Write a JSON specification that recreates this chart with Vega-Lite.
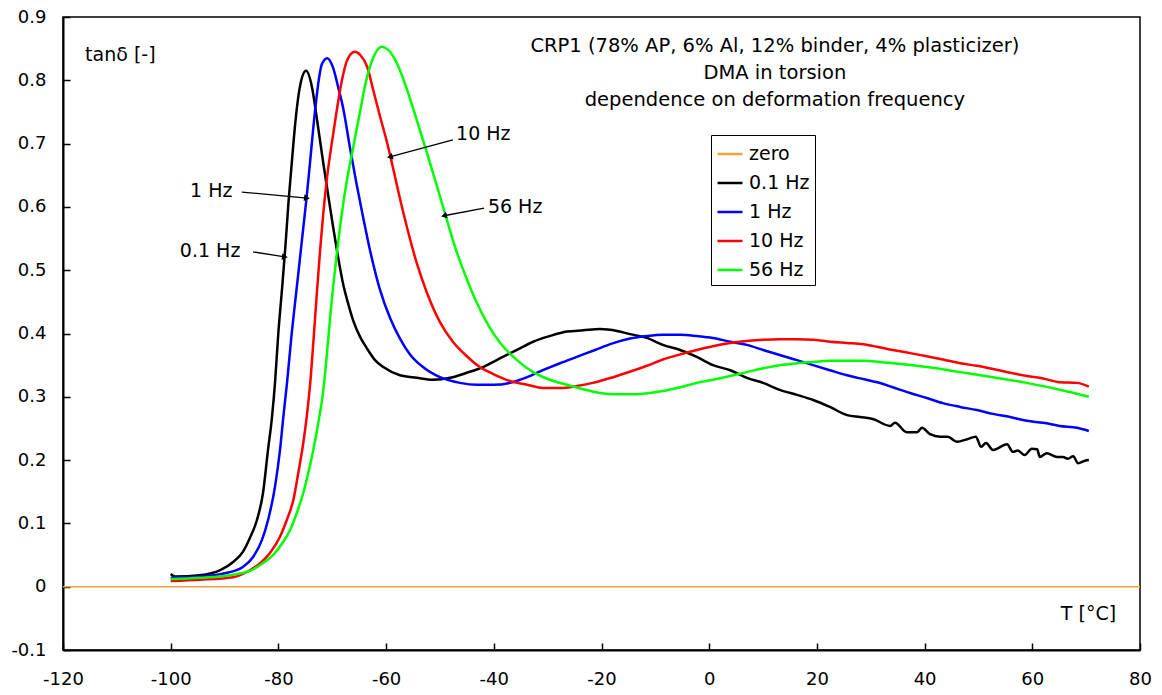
{
  "$schema": "https://vega.github.io/schema/vega-lite/v6.json",
  "width": 1077,
  "height": 633,
  "autosize": {"type": "none"},
  "padding": {"left": 63, "top": 17, "right": 22, "bottom": 45},
  "background": "white",
  "config": {
    "font": "DejaVu Sans",
    "view": {"stroke": "black", "strokeWidth": 1.5},
    "axis": {
      "labelFont": "DejaVu Sans",
      "labelFontSize": 18,
      "labelColor": "black",
      "domainColor": "black",
      "domainWidth": 2,
      "tickColor": "black",
      "tickWidth": 1.5,
      "tickSize": -7,
      "grid": false
    }
  },
  "datasets": {
    "zero": [
      {"series": "zero", "T": -120, "tan": 0},
      {"series": "zero", "T": 80, "tan": 0}
    ],
    "curves": [
      {"series": "0.1 Hz", "T": -100, "tan": 0.020},
      {"series": "0.1 Hz", "T": -99.2, "tan": 0.016},
      {"series": "0.1 Hz", "T": -94.6, "tan": 0.018},
      {"series": "0.1 Hz", "T": -90.8, "tan": 0.026},
      {"series": "0.1 Hz", "T": -88.4, "tan": 0.039},
      {"series": "0.1 Hz", "T": -86.6, "tan": 0.055},
      {"series": "0.1 Hz", "T": -85.3, "tan": 0.077},
      {"series": "0.1 Hz", "T": -84.0, "tan": 0.105},
      {"series": "0.1 Hz", "T": -82.86, "tan": 0.148},
      {"series": "0.1 Hz", "T": -81.93, "tan": 0.216},
      {"series": "0.1 Hz", "T": -81.19, "tan": 0.268},
      {"series": "0.1 Hz", "T": -80.63, "tan": 0.322},
      {"series": "0.1 Hz", "T": -80.02, "tan": 0.400},
      {"series": "0.1 Hz", "T": -79.33, "tan": 0.470},
      {"series": "0.1 Hz", "T": -78.68, "tan": 0.540},
      {"series": "0.1 Hz", "T": -78.12, "tan": 0.608},
      {"series": "0.1 Hz", "T": -77.53, "tan": 0.668},
      {"series": "0.1 Hz", "T": -76.93, "tan": 0.727},
      {"series": "0.1 Hz", "T": -76.0, "tan": 0.790},
      {"series": "0.1 Hz", "T": -74.87, "tan": 0.815},
      {"series": "0.1 Hz", "T": -73.76, "tan": 0.789},
      {"series": "0.1 Hz", "T": -72.9, "tan": 0.742},
      {"series": "0.1 Hz", "T": -71.66, "tan": 0.669},
      {"series": "0.1 Hz", "T": -70.42, "tan": 0.600},
      {"series": "0.1 Hz", "T": -69.2, "tan": 0.535},
      {"series": "0.1 Hz", "T": -67.95, "tan": 0.477},
      {"series": "0.1 Hz", "T": -67.07, "tan": 0.448},
      {"series": "0.1 Hz", "T": -66.09, "tan": 0.420},
      {"series": "0.1 Hz", "T": -64.85, "tan": 0.395},
      {"series": "0.1 Hz", "T": -63.6, "tan": 0.377},
      {"series": "0.1 Hz", "T": -62.06, "tan": 0.358},
      {"series": "0.1 Hz", "T": -60.52, "tan": 0.347},
      {"series": "0.1 Hz", "T": -57.42, "tan": 0.334},
      {"series": "0.1 Hz", "T": -54.3, "tan": 0.330},
      {"series": "0.1 Hz", "T": -51.3, "tan": 0.327},
      {"series": "0.1 Hz", "T": -48.1, "tan": 0.330},
      {"series": "0.1 Hz", "T": -45.0, "tan": 0.338},
      {"series": "0.1 Hz", "T": -42.0, "tan": 0.347},
      {"series": "0.1 Hz", "T": -38.8, "tan": 0.361},
      {"series": "0.1 Hz", "T": -35.7, "tan": 0.374},
      {"series": "0.1 Hz", "T": -32.7, "tan": 0.387},
      {"series": "0.1 Hz", "T": -29.6, "tan": 0.396},
      {"series": "0.1 Hz", "T": -26.4, "tan": 0.403},
      {"series": "0.1 Hz", "T": -23.4, "tan": 0.405},
      {"series": "0.1 Hz", "T": -20.3, "tan": 0.407},
      {"series": "0.1 Hz", "T": -17.1, "tan": 0.404},
      {"series": "0.1 Hz", "T": -14.7, "tan": 0.399},
      {"series": "0.1 Hz", "T": -11.6, "tan": 0.393},
      {"series": "0.1 Hz", "T": -8.6, "tan": 0.382},
      {"series": "0.1 Hz", "T": -5.4, "tan": 0.374},
      {"series": "0.1 Hz", "T": -2.3, "tan": 0.363},
      {"series": "0.1 Hz", "T": 0.7, "tan": 0.350},
      {"series": "0.1 Hz", "T": 3.9, "tan": 0.342},
      {"series": "0.1 Hz", "T": 7.0, "tan": 0.330},
      {"series": "0.1 Hz", "T": 10.0, "tan": 0.322},
      {"series": "0.1 Hz", "T": 13.1, "tan": 0.311},
      {"series": "0.1 Hz", "T": 16.3, "tan": 0.303},
      {"series": "0.1 Hz", "T": 19.3, "tan": 0.295},
      {"series": "0.1 Hz", "T": 22.4, "tan": 0.284},
      {"series": "0.1 Hz", "T": 25.6, "tan": 0.271},
      {"series": "0.1 Hz", "T": 28.0, "tan": 0.268},
      {"series": "0.1 Hz", "T": 30.4, "tan": 0.265},
      {"series": "0.1 Hz", "T": 33.6, "tan": 0.254},
      {"series": "0.1 Hz", "T": 34.5, "tan": 0.259},
      {"series": "0.1 Hz", "T": 36.7, "tan": 0.244},
      {"series": "0.1 Hz", "T": 38.6, "tan": 0.244},
      {"series": "0.1 Hz", "T": 39.5, "tan": 0.251},
      {"series": "0.1 Hz", "T": 41.0, "tan": 0.241},
      {"series": "0.1 Hz", "T": 42.9, "tan": 0.237},
      {"series": "0.1 Hz", "T": 44.3, "tan": 0.237},
      {"series": "0.1 Hz", "T": 46.0, "tan": 0.229},
      {"series": "0.1 Hz", "T": 47.9, "tan": 0.233},
      {"series": "0.1 Hz", "T": 49.5, "tan": 0.237},
      {"series": "0.1 Hz", "T": 50.5, "tan": 0.221},
      {"series": "0.1 Hz", "T": 51.4, "tan": 0.227},
      {"series": "0.1 Hz", "T": 52.7, "tan": 0.216},
      {"series": "0.1 Hz", "T": 55.3, "tan": 0.225},
      {"series": "0.1 Hz", "T": 56.4, "tan": 0.213},
      {"series": "0.1 Hz", "T": 57.3, "tan": 0.215},
      {"series": "0.1 Hz", "T": 58.6, "tan": 0.208},
      {"series": "0.1 Hz", "T": 59.9, "tan": 0.218},
      {"series": "0.1 Hz", "T": 60.9, "tan": 0.217},
      {"series": "0.1 Hz", "T": 61.4, "tan": 0.205},
      {"series": "0.1 Hz", "T": 62.7, "tan": 0.211},
      {"series": "0.1 Hz", "T": 64.6, "tan": 0.205},
      {"series": "0.1 Hz", "T": 65.7, "tan": 0.205},
      {"series": "0.1 Hz", "T": 66.6, "tan": 0.202},
      {"series": "0.1 Hz", "T": 67.6, "tan": 0.206},
      {"series": "0.1 Hz", "T": 68.5, "tan": 0.195},
      {"series": "0.1 Hz", "T": 69.8, "tan": 0.199},
      {"series": "0.1 Hz", "T": 70.5, "tan": 0.200},

      {"series": "1 Hz", "T": -100, "tan": 0.014},
      {"series": "1 Hz", "T": -94.6, "tan": 0.016},
      {"series": "1 Hz", "T": -89.5, "tan": 0.022},
      {"series": "1 Hz", "T": -86.6, "tan": 0.031},
      {"series": "1 Hz", "T": -84.7, "tan": 0.047},
      {"series": "1 Hz", "T": -83.05, "tan": 0.074},
      {"series": "1 Hz", "T": -81.93, "tan": 0.105},
      {"series": "1 Hz", "T": -80.63, "tan": 0.158},
      {"series": "1 Hz", "T": -79.7, "tan": 0.216},
      {"series": "1 Hz", "T": -79.09, "tan": 0.268},
      {"series": "1 Hz", "T": -78.4, "tan": 0.322},
      {"series": "1 Hz", "T": -77.53, "tan": 0.400},
      {"series": "1 Hz", "T": -76.73, "tan": 0.462},
      {"series": "1 Hz", "T": -76.3, "tan": 0.495},
      {"series": "1 Hz", "T": -75.38, "tan": 0.567},
      {"series": "1 Hz", "T": -74.75, "tan": 0.616},
      {"series": "1 Hz", "T": -74.13, "tan": 0.670},
      {"series": "1 Hz", "T": -73.52, "tan": 0.725},
      {"series": "1 Hz", "T": -72.89, "tan": 0.775},
      {"series": "1 Hz", "T": -72.37, "tan": 0.808},
      {"series": "1 Hz", "T": -71.9, "tan": 0.826},
      {"series": "1 Hz", "T": -70.92, "tan": 0.835},
      {"series": "1 Hz", "T": -69.85, "tan": 0.820},
      {"series": "1 Hz", "T": -68.92, "tan": 0.790},
      {"series": "1 Hz", "T": -67.95, "tan": 0.755},
      {"series": "1 Hz", "T": -66.7, "tan": 0.693},
      {"series": "1 Hz", "T": -65.46, "tan": 0.635},
      {"series": "1 Hz", "T": -64.23, "tan": 0.582},
      {"series": "1 Hz", "T": -63.0, "tan": 0.532},
      {"series": "1 Hz", "T": -61.13, "tan": 0.469},
      {"series": "1 Hz", "T": -59.28, "tan": 0.425},
      {"series": "1 Hz", "T": -57.42, "tan": 0.392},
      {"series": "1 Hz", "T": -55.56, "tan": 0.367},
      {"series": "1 Hz", "T": -53.15, "tan": 0.347},
      {"series": "1 Hz", "T": -50.0, "tan": 0.331},
      {"series": "1 Hz", "T": -46.3, "tan": 0.322},
      {"series": "1 Hz", "T": -43.1, "tan": 0.319},
      {"series": "1 Hz", "T": -40.1, "tan": 0.319},
      {"series": "1 Hz", "T": -37.0, "tan": 0.322},
      {"series": "1 Hz", "T": -33.8, "tan": 0.331},
      {"series": "1 Hz", "T": -30.9, "tan": 0.342},
      {"series": "1 Hz", "T": -27.7, "tan": 0.353},
      {"series": "1 Hz", "T": -24.6, "tan": 0.363},
      {"series": "1 Hz", "T": -21.2, "tan": 0.374},
      {"series": "1 Hz", "T": -18.1, "tan": 0.384},
      {"series": "1 Hz", "T": -14.7, "tan": 0.392},
      {"series": "1 Hz", "T": -11.6, "tan": 0.396},
      {"series": "1 Hz", "T": -8.6, "tan": 0.398},
      {"series": "1 Hz", "T": -5.4, "tan": 0.398},
      {"series": "1 Hz", "T": -2.3, "tan": 0.396},
      {"series": "1 Hz", "T": 0.7, "tan": 0.393},
      {"series": "1 Hz", "T": 3.9, "tan": 0.387},
      {"series": "1 Hz", "T": 7.0, "tan": 0.382},
      {"series": "1 Hz", "T": 10.0, "tan": 0.374},
      {"series": "1 Hz", "T": 13.1, "tan": 0.366},
      {"series": "1 Hz", "T": 16.3, "tan": 0.358},
      {"series": "1 Hz", "T": 19.3, "tan": 0.350},
      {"series": "1 Hz", "T": 22.4, "tan": 0.342},
      {"series": "1 Hz", "T": 25.6, "tan": 0.334},
      {"series": "1 Hz", "T": 28.6, "tan": 0.328},
      {"series": "1 Hz", "T": 31.2, "tan": 0.323},
      {"series": "1 Hz", "T": 34.1, "tan": 0.315},
      {"series": "1 Hz", "T": 37.3, "tan": 0.306},
      {"series": "1 Hz", "T": 40.4, "tan": 0.298},
      {"series": "1 Hz", "T": 43.4, "tan": 0.290},
      {"series": "1 Hz", "T": 46.6, "tan": 0.284},
      {"series": "1 Hz", "T": 49.7, "tan": 0.279},
      {"series": "1 Hz", "T": 52.7, "tan": 0.273},
      {"series": "1 Hz", "T": 55.9, "tan": 0.268},
      {"series": "1 Hz", "T": 59.0, "tan": 0.262},
      {"series": "1 Hz", "T": 62.0, "tan": 0.259},
      {"series": "1 Hz", "T": 65.1, "tan": 0.254},
      {"series": "1 Hz", "T": 68.3, "tan": 0.251},
      {"series": "1 Hz", "T": 70.5, "tan": 0.246},

      {"series": "10 Hz", "T": -100, "tan": 0.009},
      {"series": "10 Hz", "T": -94.6, "tan": 0.011},
      {"series": "10 Hz", "T": -88.4, "tan": 0.015},
      {"series": "10 Hz", "T": -85.3, "tan": 0.026},
      {"series": "10 Hz", "T": -83.4, "tan": 0.037},
      {"series": "10 Hz", "T": -81.6, "tan": 0.053},
      {"series": "10 Hz", "T": -79.7, "tan": 0.079},
      {"series": "10 Hz", "T": -78.46, "tan": 0.105},
      {"series": "10 Hz", "T": -77.23, "tan": 0.137},
      {"series": "10 Hz", "T": -76.3, "tan": 0.180},
      {"series": "10 Hz", "T": -75.38, "tan": 0.227},
      {"series": "10 Hz", "T": -74.75, "tan": 0.268},
      {"series": "10 Hz", "T": -74.13, "tan": 0.318},
      {"series": "10 Hz", "T": -73.52, "tan": 0.385},
      {"series": "10 Hz", "T": -72.89, "tan": 0.460},
      {"series": "10 Hz", "T": -72.27, "tan": 0.530},
      {"series": "10 Hz", "T": -71.66, "tan": 0.590},
      {"series": "10 Hz", "T": -71.03, "tan": 0.642},
      {"series": "10 Hz", "T": -70.1, "tan": 0.700},
      {"series": "10 Hz", "T": -69.17, "tan": 0.752},
      {"series": "10 Hz", "T": -68.25, "tan": 0.798},
      {"series": "10 Hz", "T": -67.32, "tan": 0.830},
      {"series": "10 Hz", "T": -66.7, "tan": 0.840},
      {"series": "10 Hz", "T": -65.78, "tan": 0.845},
      {"series": "10 Hz", "T": -64.8, "tan": 0.840},
      {"series": "10 Hz", "T": -63.5, "tan": 0.821},
      {"series": "10 Hz", "T": -62.4, "tan": 0.785},
      {"series": "10 Hz", "T": -61.1, "tan": 0.742},
      {"series": "10 Hz", "T": -59.8, "tan": 0.701},
      {"series": "10 Hz", "T": -58.7, "tan": 0.661},
      {"series": "10 Hz", "T": -57.4, "tan": 0.612},
      {"series": "10 Hz", "T": -56.1, "tan": 0.567},
      {"series": "10 Hz", "T": -54.3, "tan": 0.511},
      {"series": "10 Hz", "T": -52.4, "tan": 0.464},
      {"series": "10 Hz", "T": -50.0, "tan": 0.418},
      {"series": "10 Hz", "T": -47.6, "tan": 0.387},
      {"series": "10 Hz", "T": -45.0, "tan": 0.364},
      {"series": "10 Hz", "T": -42.6, "tan": 0.347},
      {"series": "10 Hz", "T": -40.1, "tan": 0.336},
      {"series": "10 Hz", "T": -37.0, "tan": 0.325},
      {"series": "10 Hz", "T": -33.8, "tan": 0.319},
      {"series": "10 Hz", "T": -30.9, "tan": 0.314},
      {"series": "10 Hz", "T": -27.7, "tan": 0.314},
      {"series": "10 Hz", "T": -24.6, "tan": 0.317},
      {"series": "10 Hz", "T": -21.6, "tan": 0.322},
      {"series": "10 Hz", "T": -18.2, "tan": 0.330},
      {"series": "10 Hz", "T": -15.3, "tan": 0.338},
      {"series": "10 Hz", "T": -11.6, "tan": 0.349},
      {"series": "10 Hz", "T": -8.6, "tan": 0.359},
      {"series": "10 Hz", "T": -5.4, "tan": 0.367},
      {"series": "10 Hz", "T": -2.3, "tan": 0.374},
      {"series": "10 Hz", "T": 0.7, "tan": 0.380},
      {"series": "10 Hz", "T": 3.9, "tan": 0.385},
      {"series": "10 Hz", "T": 7.0, "tan": 0.388},
      {"series": "10 Hz", "T": 10.0, "tan": 0.390},
      {"series": "10 Hz", "T": 13.1, "tan": 0.391},
      {"series": "10 Hz", "T": 16.3, "tan": 0.391},
      {"series": "10 Hz", "T": 19.3, "tan": 0.390},
      {"series": "10 Hz", "T": 22.4, "tan": 0.387},
      {"series": "10 Hz", "T": 25.6, "tan": 0.385},
      {"series": "10 Hz", "T": 28.6, "tan": 0.383},
      {"series": "10 Hz", "T": 31.2, "tan": 0.379},
      {"series": "10 Hz", "T": 34.1, "tan": 0.374},
      {"series": "10 Hz", "T": 37.3, "tan": 0.369},
      {"series": "10 Hz", "T": 40.4, "tan": 0.364},
      {"series": "10 Hz", "T": 43.4, "tan": 0.359},
      {"series": "10 Hz", "T": 46.6, "tan": 0.353},
      {"series": "10 Hz", "T": 49.7, "tan": 0.349},
      {"series": "10 Hz", "T": 52.7, "tan": 0.344},
      {"series": "10 Hz", "T": 55.9, "tan": 0.338},
      {"series": "10 Hz", "T": 59.0, "tan": 0.333},
      {"series": "10 Hz", "T": 62.0, "tan": 0.329},
      {"series": "10 Hz", "T": 65.1, "tan": 0.323},
      {"series": "10 Hz", "T": 68.3, "tan": 0.322},
      {"series": "10 Hz", "T": 70.5, "tan": 0.316},

      {"series": "56 Hz", "T": -100, "tan": 0.012},
      {"series": "56 Hz", "T": -94.6, "tan": 0.014},
      {"series": "56 Hz", "T": -88.4, "tan": 0.019},
      {"series": "56 Hz", "T": -85.3, "tan": 0.025},
      {"series": "56 Hz", "T": -82.9, "tan": 0.037},
      {"series": "56 Hz", "T": -81.0, "tan": 0.050},
      {"series": "56 Hz", "T": -79.1, "tan": 0.071},
      {"series": "56 Hz", "T": -77.8, "tan": 0.090},
      {"series": "56 Hz", "T": -76.6, "tan": 0.116},
      {"series": "56 Hz", "T": -75.38, "tan": 0.148},
      {"series": "56 Hz", "T": -74.45, "tan": 0.180},
      {"series": "56 Hz", "T": -73.52, "tan": 0.216},
      {"series": "56 Hz", "T": -72.59, "tan": 0.259},
      {"series": "56 Hz", "T": -71.66, "tan": 0.310},
      {"series": "56 Hz", "T": -70.97, "tan": 0.370},
      {"series": "56 Hz", "T": -70.23, "tan": 0.440},
      {"series": "56 Hz", "T": -69.3, "tan": 0.515},
      {"series": "56 Hz", "T": -68.38, "tan": 0.580},
      {"series": "56 Hz", "T": -67.32, "tan": 0.640},
      {"series": "56 Hz", "T": -66.09, "tan": 0.695},
      {"series": "56 Hz", "T": -64.85, "tan": 0.750},
      {"series": "56 Hz", "T": -63.6, "tan": 0.803},
      {"series": "56 Hz", "T": -62.38, "tan": 0.836},
      {"series": "56 Hz", "T": -60.82, "tan": 0.853},
      {"series": "56 Hz", "T": -59.6, "tan": 0.848},
      {"series": "56 Hz", "T": -58.0, "tan": 0.827},
      {"series": "56 Hz", "T": -56.1, "tan": 0.785},
      {"series": "56 Hz", "T": -54.3, "tan": 0.737},
      {"series": "56 Hz", "T": -52.4, "tan": 0.685},
      {"series": "56 Hz", "T": -50.5, "tan": 0.631},
      {"series": "56 Hz", "T": -48.7, "tan": 0.579},
      {"series": "56 Hz", "T": -47.2, "tan": 0.537},
      {"series": "56 Hz", "T": -45.3, "tan": 0.492},
      {"series": "56 Hz", "T": -43.5, "tan": 0.455},
      {"series": "56 Hz", "T": -41.0, "tan": 0.413},
      {"series": "56 Hz", "T": -38.8, "tan": 0.385},
      {"series": "56 Hz", "T": -35.7, "tan": 0.358},
      {"series": "56 Hz", "T": -32.7, "tan": 0.339},
      {"series": "56 Hz", "T": -29.6, "tan": 0.327},
      {"series": "56 Hz", "T": -26.4, "tan": 0.319},
      {"series": "56 Hz", "T": -23.4, "tan": 0.312},
      {"series": "56 Hz", "T": -20.3, "tan": 0.306},
      {"series": "56 Hz", "T": -17.1, "tan": 0.304},
      {"series": "56 Hz", "T": -14.2, "tan": 0.304},
      {"series": "56 Hz", "T": -11.0, "tan": 0.306},
      {"series": "56 Hz", "T": -8.6, "tan": 0.309},
      {"series": "56 Hz", "T": -5.4, "tan": 0.315},
      {"series": "56 Hz", "T": -2.3, "tan": 0.322},
      {"series": "56 Hz", "T": 0.7, "tan": 0.327},
      {"series": "56 Hz", "T": 3.9, "tan": 0.333},
      {"series": "56 Hz", "T": 7.0, "tan": 0.339},
      {"series": "56 Hz", "T": 10.0, "tan": 0.345},
      {"series": "56 Hz", "T": 13.1, "tan": 0.350},
      {"series": "56 Hz", "T": 16.3, "tan": 0.353},
      {"series": "56 Hz", "T": 19.3, "tan": 0.355},
      {"series": "56 Hz", "T": 22.4, "tan": 0.357},
      {"series": "56 Hz", "T": 25.6, "tan": 0.357},
      {"series": "56 Hz", "T": 28.6, "tan": 0.357},
      {"series": "56 Hz", "T": 31.7, "tan": 0.355},
      {"series": "56 Hz", "T": 34.1, "tan": 0.353},
      {"series": "56 Hz", "T": 40.4, "tan": 0.347},
      {"series": "56 Hz", "T": 46.6, "tan": 0.339},
      {"series": "56 Hz", "T": 52.7, "tan": 0.331},
      {"series": "56 Hz", "T": 59.0, "tan": 0.322},
      {"series": "56 Hz", "T": 65.1, "tan": 0.311},
      {"series": "56 Hz", "T": 70.5, "tan": 0.300}
    ],
    "arrows": [
      {"label": "10 Hz", "T": -47.6, "tan": 0.706, "T2": -59.3, "tan2": 0.679},
      {"label": "56 Hz", "T": -41.8, "tan": 0.598, "T2": -49.25, "tan2": 0.586},
      {"label": "1 Hz", "T": -86.8, "tan": 0.6235, "T2": -74.7, "tan2": 0.614},
      {"label": "0.1 Hz", "T": -84.7, "tan": 0.529, "T2": -78.8, "tan2": 0.521}
    ],
    "notes": [
      {"label": "10 Hz", "T": -47.0, "tan": 0.715},
      {"label": "56 Hz", "T": -41.1, "tan": 0.600},
      {"label": "1 Hz", "T": -96.4, "tan": 0.625},
      {"label": "0.1 Hz", "T": -98.3, "tan": 0.530},
      {"label": "tanδ [-]", "T": -115.9, "tan": 0.840},
      {"label": "T [°C]", "T": 65.3, "tan": -0.043}
    ],
    "titles": [
      {"label": "CRP1 (78% AP, 6% Al, 12% binder, 4% plasticizer)", "T": 12.2, "tan": 0.854},
      {"label": "DMA in torsion", "T": 12.2, "tan": 0.8115},
      {"label": "dependence on deformation frequency", "T": 12.2, "tan": 0.769}
    ]
  },
  "encoding": {
    "x": {
      "field": "T",
      "type": "quantitative",
      "title": null,
      "scale": {"domain": [-120, 80], "nice": false, "zero": false},
      "axis": {
        "values": [-120, -100, -80, -60, -40, -20, 0, 20, 40, 60, 80],
        "labelExpr": "datum.value < 0 ? '-' + format(-datum.value, '~g') : format(datum.value, '~g')",
        "labelPadding": 27,
        "labelFlush": false
      }
    },
    "y": {
      "field": "tan",
      "type": "quantitative",
      "title": null,
      "scale": {"domain": [-0.1, 0.9], "nice": false, "zero": false},
      "axis": {
        "values": [-0.1, 0, 0.1, 0.2, 0.3, 0.4, 0.5, 0.6, 0.7, 0.8, 0.9],
        "labelExpr": "datum.value < 0 ? '-' + format(-datum.value, '~g') : format(datum.value, '~g')",
        "labelPadding": 24,
        "labelFlush": false
      }
    }
  },
  "layer": [
    {
      "data": {"name": "zero"},
      "mark": {"type": "line", "strokeWidth": 1.5},
      "encoding": {
        "color": {
          "field": "series",
          "type": "nominal",
          "scale": {
            "domain": ["zero", "0.1 Hz", "1 Hz", "10 Hz", "56 Hz"],
            "range": ["#F5A03C", "#000000", "#0000FF", "#FF0000", "#00FF00"]
          },
          "legend": {
            "title": null,
            "orient": "none",
            "legendX": 648,
            "legendY": 118,
            "symbolType": "stroke",
            "symbolSize": 625,
            "symbolStrokeWidth": 2.5,
            "labelFont": "DejaVu Sans",
            "labelFontSize": 19,
            "labelColor": "black",
            "labelOffset": 5,
            "labelLimit": 300,
            "rowPadding": 5,
            "padding": 5,
            "strokeColor": "black",
            "fillColor": "white"
          }
        }
      }
    },
    {
      "data": {"name": "curves"},
      "mark": {"type": "line", "strokeWidth": 2.5, "interpolate": "monotone"},
      "encoding": {
        "color": {"field": "series", "type": "nominal"}
      }
    },
    {
      "data": {"name": "arrows"},
      "mark": {"type": "rule", "color": "black", "strokeWidth": 1.3},
      "encoding": {
        "x2": {"field": "T2"},
        "y2": {"field": "tan2"}
      }
    },
    {
      "data": {"name": "arrows"},
      "transform": [{"filter": "datum.label == '10 Hz' || datum.label == '56 Hz'"}],
      "mark": {"type": "point", "shape": "triangle-right", "filled": true, "color": "black", "opacity": 1, "size": 45, "angle": 166},
      "encoding": {
        "x": {"field": "T2", "type": "quantitative", "title": null},
        "y": {"field": "tan2", "type": "quantitative", "title": null}
      }
    },
    {
      "data": {"name": "arrows"},
      "transform": [{"filter": "datum.label == '1 Hz' || datum.label == '0.1 Hz'"}],
      "mark": {"type": "point", "shape": "triangle-right", "filled": true, "color": "black", "opacity": 1, "size": 45, "angle": 7},
      "encoding": {
        "x": {"field": "T2", "type": "quantitative", "title": null},
        "y": {"field": "tan2", "type": "quantitative", "title": null}
      }
    },
    {
      "data": {"name": "notes"},
      "mark": {"type": "text", "align": "left", "baseline": "middle", "font": "DejaVu Sans", "fontSize": 19, "color": "black"},
      "encoding": {
        "text": {"field": "label"}
      }
    },
    {
      "data": {"name": "titles"},
      "mark": {"type": "text", "align": "center", "baseline": "middle", "font": "DejaVu Sans", "fontSize": 19.5, "color": "black"},
      "encoding": {
        "text": {"field": "label"}
      }
    }
  ]
}
